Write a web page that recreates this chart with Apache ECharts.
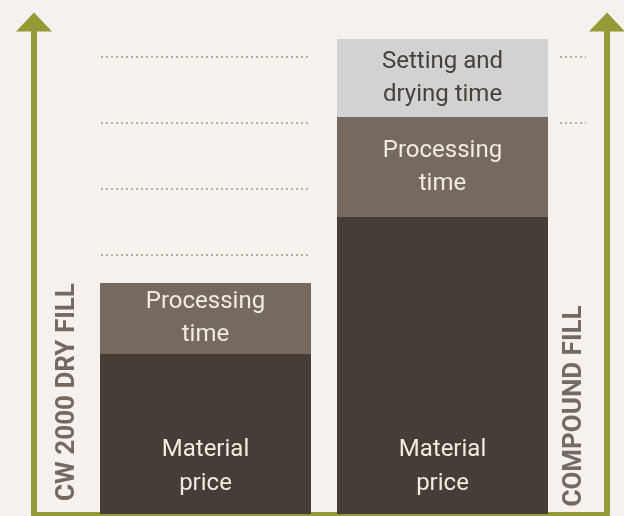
<!DOCTYPE html>
<html>
<head>
<meta charset="utf-8">
<script src="https://cdn.jsdelivr.net/npm/echarts@6/dist/echarts.min.js"></script>
<style>
  html, body { margin: 0; padding: 0; background: #f4f1ee; }
  #main { width: 624px; height: 516px; }
</style>
</head>
<body>
<div id="main"></div>
<script>
var categories = ['CW 2000 DRY FILL', 'COMPOUND FILL'];
var materialPrice = [160, 297];
var processingTime = [71, 100];
var settingTime = ['-', 78];
var guideLevels = [259, 325, 391, 457];
var guideLevelsRight = [391, 457];

var olive = '#939a36';

// dotted guide rows: [category, value, side]
var guideData = [];
guideLevels.forEach(function (v) { guideData.push([0, v, 0]); });
guideLevelsRight.forEach(function (v) { guideData.push([1, v, 1]); });

var arrowLine = {
    show: true,
    symbol: ['none', 'triangle'],
    symbolSize: [36, 19],
    lineStyle: { color: olive, width: 6 }
};

var option = {
    backgroundColor: '#f4f1ee',
    animation: false,
    grid: [
        { left: 87, right: 63, top: 22, bottom: 2 },
        // frame grid for the arrows and the base line
        { left: 34, right: 17, top: 22, bottom: 2 }
    ],
    xAxis: [
        {
            type: 'category', gridIndex: 0,
            data: categories,
            axisLine: { show: false },
            axisTick: { show: false },
            axisLabel: { show: false }
        },
        {
            type: 'value', gridIndex: 1, min: 0, max: 1,
            axisLine: { show: true, lineStyle: { color: olive, width: 4 } },
            axisTick: { show: false }, axisLabel: { show: false }, splitLine: { show: false }
        }
    ],
    yAxis: [
        {
            type: 'value', gridIndex: 0, min: 0, max: 492, show: false
        },
        {
            type: 'value', gridIndex: 1, min: 0, max: 492, position: 'left',
            axisLine: arrowLine,
            axisTick: { show: false }, axisLabel: { show: false }, splitLine: { show: false }
        },
        {
            type: 'value', gridIndex: 1, min: 0, max: 492, position: 'right',
            axisLine: arrowLine,
            axisTick: { show: false }, axisLabel: { show: false }, splitLine: { show: false }
        }
    ],
    series: [
        {
            type: 'custom',
            z: 1,
            data: guideData,
            renderItem: function (params, api) {
                var p = api.coord([api.value(0), api.value(1)]);
                var x1, x2;
                if (api.value(2) === 0) {
                    x1 = p[0] - 211 / 2 + 1;
                    x2 = p[0] + 211 / 2 - 1;
                } else {
                    x1 = p[0] + 211 / 2 + 12;
                    x2 = x1 + 26;
                }
                return {
                    type: 'line',
                    shape: { x1: x1, y1: p[1], x2: x2, y2: p[1] },
                    style: { stroke: '#bcae9a', lineWidth: 2, lineDash: [2, 3] }
                };
            }
        },
        {
            name: 'Material price',
            type: 'bar',
            stack: 'total',
            barWidth: 211,
            data: materialPrice,
            itemStyle: { color: '#463d37' },
            label: {
                show: true, position: 'insideBottom', distance: 13,
                formatter: 'Material\nprice',
                color: '#f2ebe1', fontFamily: 'Roboto', fontSize: 24, lineHeight: 34
            }
        },
        {
            name: 'Processing time',
            type: 'bar',
            stack: 'total',
            barWidth: 211,
            data: processingTime,
            itemStyle: { color: '#766a60' },
            label: {
                show: true, position: 'inside',
                formatter: 'Processing\ntime',
                color: '#f2ebe1', fontFamily: 'Roboto', fontSize: 24, lineHeight: 33
            }
        },
        {
            name: 'Setting and drying time',
            type: 'bar',
            stack: 'total',
            barWidth: 211,
            data: settingTime,
            itemStyle: { color: '#d1d2d4' },
            label: {
                show: true, position: 'inside',
                formatter: 'Setting and\ndrying time',
                color: '#4a4038', fontFamily: 'Roboto', fontSize: 24, lineHeight: 33
            }
        }
    ],
    graphic: [
        {
            type: 'text', x: 67, y: 392, rotation: Math.PI / 2,
            style: {
                text: categories[0], fill: '#766a60', fontFamily: 'Roboto',
                fontWeight: 'bold', fontSize: 26, align: 'center', verticalAlign: 'middle'
            }
        },
        {
            type: 'text', x: 574, y: 406, rotation: Math.PI / 2,
            style: {
                text: categories[1], fill: '#766a60', fontFamily: 'Roboto',
                fontWeight: 'bold', fontSize: 26, align: 'center', verticalAlign: 'middle'
            }
        }
    ]
};

var chart = echarts.init(document.getElementById('main'));
chart.setOption(option);
</script>
</body>
</html>
